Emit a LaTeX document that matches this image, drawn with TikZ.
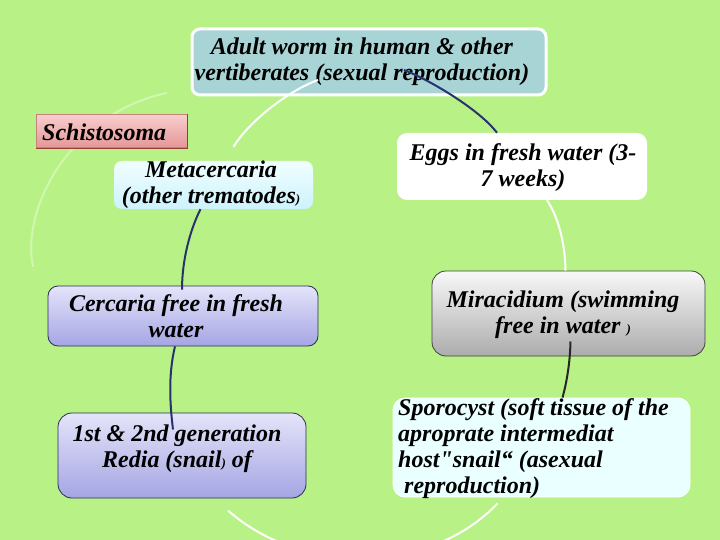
\documentclass[tikz,border=0pt]{standalone}
\usepackage{fontspec}
\setmainfont{Liberation Serif}
\newfontfamily\rawfont{Liberation Serif}[Ligatures=ResetAll]
\begin{document}
\begin{tikzpicture}[x=1pt,y=-1pt,
  txt/.style={font=\fontsize{24}{26}\selectfont\bfseries\itshape, inner sep=0pt, align=center},
  box/.style={inner sep=0pt, minimum width=#1},
  navyline/.style={draw=navyc, line width=2pt},
  whiteline/.style={draw=white, line width=2pt}]
\definecolor{bgc}{RGB}{184,242,134}
\definecolor{navyc}{RGB}{40,50,110}
\definecolor{adultc}{RGB}{168,212,214}
\definecolor{lavtop}{RGB}{228,228,250}
\definecolor{lavbot}{RGB}{165,165,228}
\definecolor{lavdraw}{RGB}{40,45,90}
\definecolor{pinktop}{RGB}{248,205,205}
\definecolor{pinkbot}{RGB}{228,150,150}
\definecolor{pinkdraw}{RGB}{170,80,70}
\definecolor{pinkshadow}{RGB}{150,60,55}
\definecolor{cyantop}{RGB}{240,255,255}
\definecolor{cyanbot}{RGB}{205,242,252}
\definecolor{greytop}{RGB}{248,248,248}
\definecolor{greybot}{RGB}{172,172,172}
\definecolor{sporc}{RGB}{234,255,255}
\newcommand{\smallpar}{\fontsize{13}{13}\selectfont}
\useasboundingbox (0,0) rectangle (720,540);
\fill[bgc] (0,0) rectangle (720,540);
\begin{scope}
\clip (0,0) rectangle (720,540);
% faint left arc (behind boxes)
\coordinate (fa) at (33,267);
\coordinate (fb) at (167,93);
\draw[white, line width=2pt, opacity=0.35] (fa) .. controls (20,200) and (80,110) .. (fb);

% boxes
\node[box=354pt, minimum height=66pt, rounded corners=8pt, fill=adultc, draw=white, line width=3pt] (adult) at (369,62) {};
\node[box=151pt, minimum height=33pt, top color=pinktop, bottom color=pinkbot, draw=pinkdraw!70, line width=1pt] (schisto) at (111.5,131.5) {};
\draw[pinkshadow, line width=1.5pt] (schisto.south west) -- (schisto.south east) -- (schisto.north east);
\node[box=199pt, minimum height=48pt, rounded corners=8pt, top color=cyantop, bottom color=cyanbot] (meta) at (213.5,185) {};
\node[box=250pt, minimum height=67pt, rounded corners=10pt, fill=white] (eggs) at (522,166.5) {};
\node[box=273pt, minimum height=85pt, rounded corners=14pt, top color=greytop, bottom color=greybot, draw=black!75, line width=0.8pt] (mira) at (568.5,313.5) {};
\node[box=297pt, minimum height=99pt, rounded corners=12pt, fill=sporc, draw=white, line width=0.8pt] (spor) at (541.5,447.5) {};
\node[box=270pt, minimum height=60pt, rounded corners=10pt, top color=lavtop, bottom color=lavbot, draw=lavdraw, line width=0.8pt] (cerc) at (183,316) {};
\node[box=248pt, minimum height=85pt, rounded corners=14pt, top color=lavtop, bottom color=lavbot, draw=lavdraw, line width=0.8pt] (redia) at (182,455.5) {};

% texts
\node[txt] (tadult) at (362,62) {Adult worm in human \& other\\vertiberates (sexual reproduction)};
\node[txt, anchor=west, font=\fontsize{24}{24}\selectfont\bfseries\itshape] (tschisto) at (42,132) {Schistosoma};
\node[txt] (tmeta) at (211,185) {Metacercaria\\(other trematodes{\smallpar)}};
\node[txt] (teggs) at (523,168) {Eggs in fresh water (3-\\7 weeks)};
\node[txt] (tmira) at (563,315) {Miracidium (swimming\\free in water {\smallpar)}};
\node[txt, align=left, anchor=west] (tspor) at (398,449) {Sporocyst (soft tissue of the\\aproprate intermediat\\host{\rawfont"}snail“ (asexual\\\ reproduction)};
\node[txt] (tcerc) at (176,316) {Cercaria free in fresh\\water};
\node[txt] (tredia) at (177,449) {1st \& 2nd generation\\Redia (snail{\smallpar)} of};

% connectors
\coordinate (c1) at ([shift={(35,8)}]adult.center);
\coordinate (c2) at ([shift={(-25,0)}]eggs.north);
\draw[navyline] (c1) .. controls (430,80) and (480,110) .. (c2);

\coordinate (c3) at ([shift={(25,0)}]eggs.south);
\coordinate (c4) at ([shift={(-3,0)}]mira.north);
\draw[whiteline] (c3) .. controls (557,215) and (565,240) .. (c4);

\coordinate (c5) at ([shift={(2,28)}]mira.center);
\coordinate (c6) at ([shift={(21,0)}]spor.north);
\draw[black!85, line width=2pt] (c5) .. controls (570,365) and (566,385) .. (c6);

\coordinate (c7) at ([shift={(-44,6)}]spor.south);
\coordinate (c8) at ([shift={(46,12)}]redia.south);
\draw[whiteline] (c7) .. controls (430,575) and (300,575) .. (c8);

\coordinate (c9) at ([shift={(-8,0)}]cerc.south);
\coordinate (c10) at ([shift={(-9,-26)}]redia.center);
\draw[navyline] (c9) .. controls (168,375) and (170,405) .. (c10);

\coordinate (c11) at ([shift={(-13,0)}]meta.south);
\coordinate (c12) at ([shift={(-1,4)}]cerc.north);
\draw[navyline] (c11) .. controls (190,230) and (182,260) .. (c12);

\coordinate (c13) at ([shift={(20,-14)}]meta.north);
\coordinate (c14) at ([shift={(-51,18)}]adult.center);
\draw[whiteline] (c13) .. controls (250,120) and (290,90) .. (c14);
\end{scope}
\end{tikzpicture}
\end{document}
